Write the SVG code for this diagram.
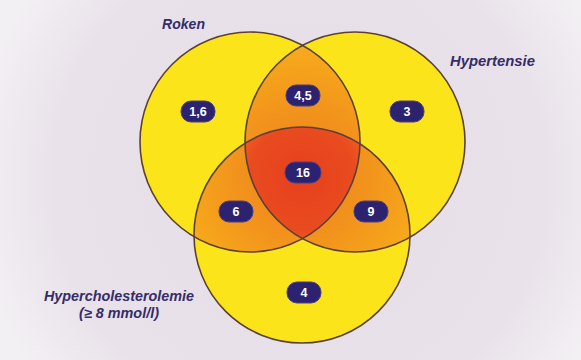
<svg xmlns="http://www.w3.org/2000/svg" width="581" height="360" viewBox="0 0 581 360">
  <defs>
    <radialGradient id="bg" cx="300" cy="180" r="330" gradientUnits="userSpaceOnUse">
      <stop offset="0" stop-color="#e6dde7"/>
      <stop offset="0.75" stop-color="#e9e2ea"/>
      <stop offset="1" stop-color="#f3f0f4"/>
    </radialGradient>
    <radialGradient id="orange" cx="302" cy="175" r="135" gradientUnits="userSpaceOnUse">
      <stop offset="0" stop-color="#ee801d"/>
      <stop offset="0.5" stop-color="#f2941c"/>
      <stop offset="1" stop-color="#f8ad1b"/>
    </radialGradient>
    <radialGradient id="red" cx="302" cy="178" r="75" gradientUnits="userSpaceOnUse">
      <stop offset="0" stop-color="#e6401e"/>
      <stop offset="0.7" stop-color="#e94b1f"/>
      <stop offset="1" stop-color="#f06222"/>
    </radialGradient>
    <clipPath id="cL"><circle cx="250" cy="142" r="110"/></clipPath>
    <clipPath id="cR"><circle cx="355" cy="142" r="110"/></clipPath>
    <clipPath id="cB"><circle cx="302" cy="235" r="108"/></clipPath>
    <style>
      .set { fill: #fce41b; }
      .edge { fill: none; stroke: #5b4038; stroke-width: 1.6; }
      .pill { fill: #2d2270; stroke: #4a3f86; stroke-width: 1; }
      .num { fill: #ffffff; font-family: "Liberation Sans", Arial, sans-serif; font-weight: bold; font-size: 12.5px; text-anchor: middle; }
      .lbl { fill: #362c68; font-family: "Liberation Sans", Arial, sans-serif; font-weight: bold; font-style: italic; font-size: 14px; }
    </style>
  </defs>

  <rect width="581" height="360" fill="url(#bg)"/>

  <!-- fills -->
  <g id="fills">
    <circle class="set" cx="250" cy="142" r="110"/>
    <circle class="set" cx="355" cy="142" r="110"/>
    <circle class="set" cx="302" cy="235" r="108"/>
    <g clip-path="url(#cL)"><circle cx="355" cy="142" r="110" fill="url(#orange)"/></g>
    <g clip-path="url(#cL)"><circle cx="302" cy="235" r="108" fill="url(#orange)"/></g>
    <g clip-path="url(#cR)"><circle cx="302" cy="235" r="108" fill="url(#orange)"/></g>
    <g clip-path="url(#cL)"><g clip-path="url(#cR)"><circle cx="302" cy="235" r="108" fill="url(#red)"/></g></g>
  </g>

  <!-- set outlines and labels -->
  <g id="set-roken">
    <circle class="edge" cx="250" cy="142" r="110"/>
    <text class="lbl" x="162" y="29" textLength="43" lengthAdjust="spacingAndGlyphs">Roken</text>
  </g>
  <g id="set-hypertensie">
    <circle class="edge" cx="355" cy="142" r="110"/>
    <text class="lbl" x="450" y="66" textLength="85" lengthAdjust="spacingAndGlyphs">Hypertensie</text>
  </g>
  <g id="set-hypercholesterolemie">
    <circle class="edge" cx="302" cy="235" r="108"/>
    <text class="lbl" x="44" y="301" textLength="150" lengthAdjust="spacingAndGlyphs">Hypercholesterolemie</text>
    <text class="lbl" x="79" y="318" textLength="80" lengthAdjust="spacingAndGlyphs">(≥ 8 mmol/l)</text>
  </g>

  <!-- value badges -->
  <g id="v-roken">
    <rect class="pill" x="181" y="101" width="34" height="21" rx="10"/>
    <text class="num" x="198" y="116">1,6</text>
  </g>
  <g id="v-roken-hypertensie">
    <rect class="pill" x="286" y="85" width="34" height="21" rx="10"/>
    <text class="num" x="303" y="100">4,5</text>
  </g>
  <g id="v-hypertensie">
    <rect class="pill" x="390" y="101" width="34" height="21" rx="10"/>
    <text class="num" x="407" y="116">3</text>
  </g>
  <g id="v-alle">
    <rect class="pill" x="285" y="162" width="36" height="21" rx="10"/>
    <text class="num" x="303" y="177">16</text>
  </g>
  <g id="v-roken-hyperchol">
    <rect class="pill" x="219" y="201" width="34" height="21" rx="10"/>
    <text class="num" x="236" y="216">6</text>
  </g>
  <g id="v-hypertensie-hyperchol">
    <rect class="pill" x="354" y="201" width="34" height="21" rx="10"/>
    <text class="num" x="371" y="216">9</text>
  </g>
  <g id="v-hyperchol">
    <rect class="pill" x="287" y="282" width="34" height="21" rx="10"/>
    <text class="num" x="304" y="297">4</text>
  </g>

  <g id="connectors"/>
</svg>
